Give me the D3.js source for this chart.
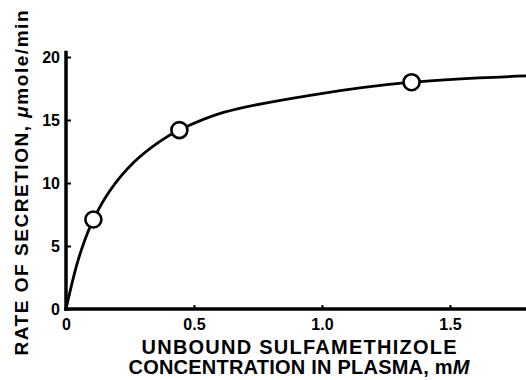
<!DOCTYPE html>
<html>
<head>
<meta charset="utf-8">
<script src="https://cdn.jsdelivr.net/npm/d3@7"></script>
<style>
  body { margin: 0; background: #fff; }
  text { font-family: "Liberation Sans", Arial, sans-serif; fill: #000; }
</style>
</head>
<body>
<div id="chart"></div>
<script>
// measured points (unbound conc, mM -> secretion rate, umole/min)
const pointsX = [0.107, 0.443, 1.35];
const pointsY = [7.1, 14.2, 18.0];

// fitted curve
const curveX = [0, 0.042, 0.074, 0.107, 0.172, 0.263, 0.367, 0.443, 0.615, 0.966, 1.35, 1.8];
const curveY = [0, 3.5, 5.5, 7.1, 9.4, 11.6, 13.3, 14.2, 15.6, 17.0, 18.0, 18.5];

const xTicks = [0, 0.5, 1.0, 1.5];
const xTickLabels = ["0", "0.5", "1.0", "1.5"];
const yTicks = [0, 5, 10, 15, 20];

const width = 526, height = 380;
const margin = {top: 57, right: 0, bottom: 71, left: 66};

const svg = d3.select("#chart").append("svg")
    .attr("width", width)
    .attr("height", height);

const xScale = d3.scaleLinear().domain([0, 1.797]).range([margin.left, width - margin.right]);
const yScale = d3.scaleLinear().domain([0, 20]).range([height - margin.bottom, margin.top]);

// x axis
const xAxis = svg.append("g")
    .attr("transform", `translate(0,${yScale(0)})`)
    .call(d3.axisBottom(xScale).tickValues(xTicks).tickFormat((d, i) => xTickLabels[i])
        .tickSizeInner(-4).tickSizeOuter(0).tickPadding(10));
xAxis.select(".domain").attr("stroke-width", 3.5).attr("d", `M${xScale(0) - 1.75},0H${width}`);
xAxis.selectAll(".tick line").attr("stroke-width", 2);
xAxis.selectAll(".tick text")
    .attr("font-size", 16).attr("font-weight", "bold")
    .attr("font-family", "Liberation Sans, Arial, sans-serif");

// y axis
const yAxis = svg.append("g")
    .attr("transform", `translate(${xScale(0)},0)`)
    .call(d3.axisLeft(yScale).tickValues(yTicks)
        .tickSizeInner(-5).tickSizeOuter(0).tickPadding(6));
yAxis.select(".domain").attr("stroke-width", 3.5).attr("d", `M0,${yScale(0) + 1.75}V${yScale(20.5)}`);
yAxis.selectAll(".tick line").attr("stroke-width", 2);
yAxis.selectAll(".tick text")
    .attr("font-size", 16).attr("font-weight", "bold")
    .attr("font-family", "Liberation Sans, Arial, sans-serif");

// axis titles
svg.append("text")
    .attr("x", 299).attr("y", 354)
    .attr("text-anchor", "middle")
    .attr("font-size", 20).attr("font-weight", "bold")
    .attr("textLength", 315).attr("lengthAdjust", "spacing")
    .text("UNBOUND SULFAMETHIZOLE");

const x2 = svg.append("text")
    .attr("x", 299).attr("y", 374)
    .attr("text-anchor", "middle")
    .attr("font-size", 20).attr("font-weight", "bold")
    .attr("textLength", 341).attr("lengthAdjust", "spacing")
    .text("CONCENTRATION IN PLASMA, m");
x2.append("tspan").attr("font-style", "italic").text("M");

const yt = svg.append("text")
    .attr("transform", "translate(28,183) rotate(-90)")
    .attr("text-anchor", "middle")
    .attr("font-size", 19).attr("font-weight", "bold")
    .attr("textLength", 345).attr("lengthAdjust", "spacing")
    .text("RATE OF SECRETION, ");
yt.append("tspan").attr("font-style", "italic").text("\u03bc");
yt.append("tspan").text("mole/min");

// curve
const curveData = curveX.map((x, i) => [x, curveY[i]]);
svg.append("path")
    .datum(curveData)
    .attr("fill", "none")
    .attr("stroke", "#000")
    .attr("stroke-width", 2.8)
    .attr("d", d3.line().x(d => xScale(d[0])).y(d => yScale(d[1])).curve(d3.curveCatmullRom.alpha(0.5)));

// data points
svg.selectAll(".pt")
    .data(pointsX.map((x, i) => [x, pointsY[i]]))
    .enter().append("circle")
    .attr("class", "pt")
    .attr("cx", d => xScale(d[0]))
    .attr("cy", d => yScale(d[1]))
    .attr("r", 8)
    .attr("fill", "#fff")
    .attr("stroke", "#000")
    .attr("stroke-width", 2.6);
</script>
</body>
</html>
